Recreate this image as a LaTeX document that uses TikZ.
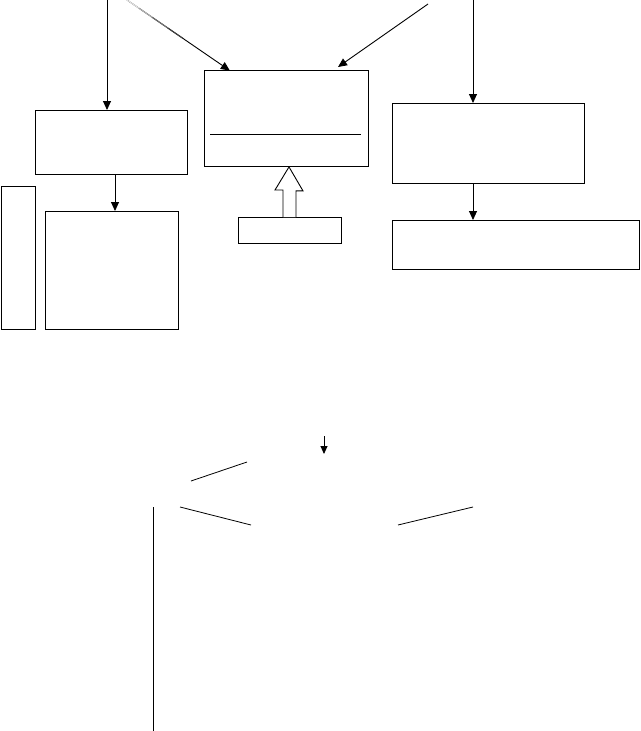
\documentclass[tikz,border=0pt]{standalone}
\usetikzlibrary{arrows.meta,calc}
\begin{document}
\begin{tikzpicture}[x=1pt,y=-1pt,
  box/.style={draw,line width=0.9pt,inner sep=0pt,anchor=north west},
  conn/.style={line width=0.9pt,-{Triangle[length=9pt,width=8pt]}},
  plain/.style={line width=0.8pt}]
\useasboundingbox (0,0) rectangle (640,731);
% boxes
\node[box,minimum width=152pt,minimum height=64pt] (A) at (35,110) {};
\node[box,minimum width=34pt,minimum height=143pt] (B) at (1,186) {};
\node[box,minimum width=133pt,minimum height=118pt] (C) at (45,211) {};
\node[box,minimum width=164pt,minimum height=96pt] (D) at (204,70) {};
\node[box,minimum width=103pt,minimum height=26pt] (E) at (238,217) {};
\node[box,minimum width=192pt,minimum height=80pt] (F) at (392,103) {};
\node[box,minimum width=247pt,minimum height=49pt] (G) at (392,220) {};
% inner divider of D
\coordinate (dl) at (210,134);
\coordinate (dr) at (361,134);
\draw[plain] (dl) -- (dr);
% top connectors
\coordinate (t1) at (107,0);
\coordinate (t2) at (127,0);
\coordinate (t3) at (428,4);
\coordinate (t4) at (473,0);
\draw[conn] (t1) -- (t1 |- A.north);
\draw[conn,shorten >=-1pt] (t2) -- ($(D.north west)+(25,0)$);
% fade at the start of the left diagonal
\draw[line width=1.1pt,black!10] (t2) -- ($(t2)!0.12!($(D.north west)+(25,0)$)$);
\draw[line width=1.1pt,black!30] ($(t2)!0.12!($(D.north west)+(25,0)$)$) -- ($(t2)!0.25!($(D.north west)+(25,0)$)$);
\draw[line width=1.1pt,black!55] ($(t2)!0.25!($(D.north west)+(25,0)$)$) -- ($(t2)!0.4!($(D.north west)+(25,0)$)$);
\draw[line width=1.1pt,black!75] ($(t2)!0.4!($(D.north west)+(25,0)$)$) -- ($(t2)!0.55!($(D.north west)+(25,0)$)$);
\draw[conn] (t3) -- ($(D.north west)+(134,-3)$);
\draw[conn] (t4) -- (t4 |- F.north);
\coordinate (ac) at (115,0);
\draw[conn] (ac |- A.south) -- (ac |- C.north);
\draw[conn] (t4 |- F.south) -- (t4 |- G.north);
% hollow block arrow from E to D
\coordinate (hb) at (289,0);
\draw[line width=0.9pt,fill=white] ($(hb |- E.north)+(-6,0)$) -- ++(0,-27) -- ++(-8,0)
  -- (hb |- D.south) -- ($(hb |- D.south)+(14,24)$) -- ++(-7,0) -- ($(hb |- E.north)+(7,0)$);
% lower part
\coordinate (s1) at (324,436);
\coordinate (s2) at (324,454);
\draw[line width=0.9pt,-{Triangle[length=8pt,width=7pt]}] (s1) -- (s2);
\coordinate (l1a) at (191,481);
\coordinate (l1b) at (247,462);
\draw[plain] (l1a) -- (l1b);
\coordinate (l2a) at (180,507);
\coordinate (l2b) at (251,525);
\draw[plain] (l2a) -- (l2b);
\coordinate (l3a) at (398,525);
\coordinate (l3b) at (473,507);
\draw[plain] (l3a) -- (l3b);
\coordinate (v1) at (153,507);
\coordinate (v2) at (153,731);
\draw[plain] (v1) -- (v2);
\end{tikzpicture}
\end{document}
